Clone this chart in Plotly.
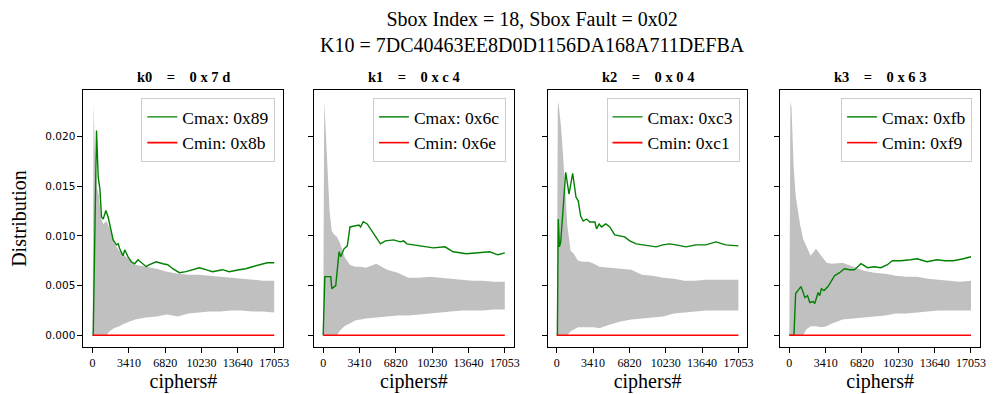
import plotly.graph_objects as go

# ---- data -------------------------------------------------------------
# shared sample grid (number of ciphertexts) for the grey confidence band
CIPHERS = [0, 100, 200, 400, 600, 800, 1000, 1300, 1600, 2000, 2500, 3000, 3500,
           4000, 5000, 6000, 7000, 8000, 9000, 10000, 11000, 12000, 13000, 14000,
           15000, 16000, 17053]

XTICKS = [0, 3410, 6820, 10230, 13640, 17053]
YTICKS = [0.0, 0.005, 0.010, 0.015, 0.020]
YTICK_TEXT = ["0.000", "0.005", "0.010", "0.015", "0.020"]

KEY_NAMES = ["k0", "k1", "k2", "k3"]
KEY_GUESSES = ["0x7d", "0xc4", "0x04", "0x63"]
CMAX_LABELS = ["0x89", "0x6c", "0xc3", "0xfb"]
CMIN_LABELS = ["0x8b", "0x6e", "0xc1", "0xf9"]

BAND_UPPER_K0 = [0, 0.0235, 0.0190, 0.0150, 0.0140, 0.0118, 0.0112, 0.0115, 0.0108,
                 0.0093, 0.0085, 0.0080, 0.0075, 0.0071, 0.0069, 0.0067, 0.0064,
                 0.0062, 0.0061, 0.0061, 0.0060, 0.0059, 0.0058, 0.0057, 0.0056,
                 0.0055, 0.0055]
BAND_LOWER_K0 = [0, 0, 0, 0, 0, 0, 0, 0, 0.0004, 0.0007, 0.0009, 0.0012, 0.0014,
                 0.0016, 0.0018, 0.0019, 0.0021, 0.0019, 0.0022, 0.0023, 0.0024,
                 0.0024, 0.0025, 0.0025, 0.0024, 0.0024, 0.0023]

BAND_UPPER_K1 = [0, 0.0235, 0.0215, 0.0172, 0.0125, 0.0105, 0.0102, 0.0099, 0.0092,
                 0.0079, 0.0071, 0.0069, 0.0069, 0.0068, 0.0072, 0.0066, 0.0063,
                 0.0058, 0.0058, 0.0059, 0.0058, 0.0057, 0.0056, 0.0055, 0.0055,
                 0.0054, 0.0054]
BAND_LOWER_K1 = [0, 0, 0, 0, 0, 0, 0, 0, 0.0005, 0.0009, 0.0012, 0.0015, 0.0016,
                 0.0017, 0.0018, 0.0019, 0.0020, 0.0020, 0.0021, 0.0022, 0.0023,
                 0.0024, 0.0025, 0.0025, 0.0025, 0.0026, 0.0026]

BAND_UPPER_K2 = [0, 0.0235, 0.0230, 0.0210, 0.0180, 0.0150, 0.0110, 0.0085, 0.0082,
                 0.0075, 0.0074, 0.0074, 0.0072, 0.0069, 0.0068, 0.0067, 0.0066,
                 0.0061, 0.0060, 0.0058, 0.0057, 0.0055, 0.0055, 0.0056, 0.0056,
                 0.0056, 0.0056]
BAND_LOWER_K2 = [0, 0, 0, 0, 0, 0, 0, 0.0004, 0.0006, 0.0008, 0.0008, 0.0008, 0.0008,
                 0.0007, 0.0011, 0.0014, 0.0016, 0.0017, 0.0018, 0.0019, 0.0022,
                 0.0023, 0.0024, 0.0025, 0.0025, 0.0025, 0.0025]

BAND_UPPER_K3 = [0, 0.0235, 0.0230, 0.0170, 0.0140, 0.0124, 0.0112, 0.0097, 0.0090,
                 0.0080, 0.0087, 0.0080, 0.0073, 0.0072, 0.0073, 0.0069, 0.0065,
                 0.0063, 0.0062, 0.0060, 0.0059, 0.0059, 0.0057, 0.0056, 0.0055,
                 0.0054, 0.0055]
BAND_LOWER_K3 = [0, 0, 0, 0, 0, 0, 0, 0, 0.0006, 0.0009, 0.0009, 0.0008, 0.0009,
                 0.0012, 0.0016, 0.0017, 0.0018, 0.0019, 0.0020, 0.0022, 0.0022,
                 0.0023, 0.0024, 0.0025, 0.0025, 0.0025, 0.0025]

# distribution of the most likely candidate (Cmax) per key byte
CMAX_N_K0 = [0, 60, 370, 530, 690, 840, 1000, 1250, 1460, 1620, 1930, 2240, 2400,
             2550, 2860, 3020, 3330, 3640, 3950, 4260, 4730, 5040, 5350, 5970, 6600,
             7060, 7530, 8150, 8770, 9390, 10020, 10640, 11260, 12200, 12820, 13760,
             14380, 15000, 15620, 16400, 17053]
CMAX_K0 = [0, 0, 0.0206, 0.0159, 0.0147, 0.0119, 0.0117, 0.01255, 0.0119, 0.0110,
           0.0096, 0.0091, 0.0092, 0.0087, 0.0080, 0.0086, 0.0079, 0.0074, 0.0072,
           0.0076, 0.0072, 0.0069, 0.0071, 0.0074, 0.0072, 0.0071, 0.0067, 0.0063,
           0.0064, 0.0066, 0.0068, 0.0066, 0.0064, 0.0066, 0.0064, 0.0066, 0.0067,
           0.0069, 0.0071, 0.0073, 0.0073]

CMAX_N_K1 = [0, 155, 714, 808, 1180, 1490, 1646, 1957, 2267, 2516, 3354, 3510, 3758,
             4131, 4752, 5373, 5839, 6616, 7237, 7548, 7858, 9100, 10343, 11430,
             12206, 13449, 14691, 15623, 16400, 17053]
CMAX_K1 = [0, 0.0059, 0.0059, 0.0047, 0.0050, 0.0084, 0.0079, 0.0087, 0.0090,
           0.0109, 0.0111, 0.0109, 0.01143, 0.0112, 0.0102, 0.0092, 0.0095, 0.0096,
           0.0094, 0.0095, 0.0092, 0.0090, 0.0088, 0.0089, 0.0084, 0.0082, 0.0083,
           0.0084, 0.0081, 0.0083]

CMAX_N_K2 = [0, 60, 140, 250, 373, 560, 840, 1150, 1494, 1805, 2023, 2240, 2490, 2800,
             3112, 3580, 3734, 3983, 4200, 4606, 4979, 5446, 5913, 6380, 6846, 7470,
             8090, 8714, 9336, 9958, 10580, 11200, 12140, 13070, 14000, 14940, 15870,
             17053]
CMAX_K2 = [0, 0, 0.0117, 0.0089, 0.0094, 0.0119, 0.0164, 0.0142, 0.0163, 0.0139,
           0.0135, 0.0120, 0.0115, 0.0117, 0.0114, 0.0114, 0.0107, 0.0112, 0.0109,
           0.0112, 0.0109, 0.0101, 0.0100, 0.0099, 0.0095, 0.0092, 0.0091, 0.0090,
           0.0089, 0.0091, 0.0092, 0.0091, 0.0089, 0.0091, 0.0091, 0.0094, 0.0091,
           0.0090]

CMAX_N_K3 = [0, 434, 590, 837, 1085, 1302, 1457, 1705, 1922, 2232, 2387, 2697, 2852,
             3007, 3255, 3627, 3937, 4247, 4712, 5177, 5642, 6107, 6417, 6727, 7347,
             7967, 8587, 9207, 9672, 10447, 11377, 11997, 12927, 13857, 14632, 15407,
             16337, 17053]
CMAX_K3 = [0, 0, 0.0042, 0.0046, 0.0049, 0.0043, 0.0038, 0.0040, 0.0033, 0.0034,
           0.0032, 0.0043, 0.0040, 0.0047, 0.0045, 0.0049, 0.0055, 0.0060, 0.0063,
           0.0067, 0.0066, 0.0066, 0.0069, 0.0072, 0.0068, 0.0069, 0.0068, 0.0071,
           0.0075, 0.0075, 0.0076, 0.0077, 0.0074, 0.0076, 0.0075, 0.0075, 0.0077,
           0.0079]

# the least likely candidate (Cmin) stays at zero
CMIN_N = [0, 17053]
CMIN_VALUES = [0.0, 0.0]

BAND_UPPER = [BAND_UPPER_K0, BAND_UPPER_K1, BAND_UPPER_K2, BAND_UPPER_K3]
BAND_LOWER = [BAND_LOWER_K0, BAND_LOWER_K1, BAND_LOWER_K2, BAND_LOWER_K3]
CMAX_N = [CMAX_N_K0, CMAX_N_K1, CMAX_N_K2, CMAX_N_K3]
CMAX = [CMAX_K0, CMAX_K1, CMAX_K2, CMAX_K3]

# ---- layout geometry (pixels) ------------------------------------------
W, H = 995, 394
PANEL_LEFT = [84, 316, 551, 785]
PANEL_WIDTH = 201
PANEL_TOP, PANEL_BOTTOM = 90, 347
X_RANGE = [-852.65, 17905.65]
Y_RANGE = [-0.001175, 0.024675]

SERIF = "Liberation Serif"
SANS = "DejaVu Sans"
BAND_COLOR = "#c0c0c0"

fig = go.Figure()
layout = {}

for i in range(4):
    sfx = "" if i == 0 else str(i + 1)
    xa, ya = "x" + sfx, "y" + sfx
    leg = "legend" + sfx

    fig.add_trace(go.Scatter(x=CIPHERS, y=BAND_LOWER[i], mode="lines",
                             line=dict(width=0, color=BAND_COLOR),
                             showlegend=False, hoverinfo="skip", xaxis=xa, yaxis=ya))
    fig.add_trace(go.Scatter(x=CIPHERS, y=BAND_UPPER[i], mode="lines",
                             line=dict(width=0, color=BAND_COLOR), fill="tonexty",
                             fillcolor=BAND_COLOR, showlegend=False,
                             hoverinfo="skip", xaxis=xa, yaxis=ya))
    fig.add_trace(go.Scatter(x=CMAX_N[i], y=CMAX[i], mode="lines",
                             line=dict(width=1.4, color="green"),
                             name="Cmax: " + CMAX_LABELS[i], legend=leg,
                             xaxis=xa, yaxis=ya))
    fig.add_trace(go.Scatter(x=CMIN_N, y=CMIN_VALUES, mode="lines",
                             line=dict(width=1.6, color="red"),
                             name="Cmin: " + CMIN_LABELS[i], legend=leg,
                             xaxis=xa, yaxis=ya))

    x0 = PANEL_LEFT[i] / W
    x1 = (PANEL_LEFT[i] + PANEL_WIDTH) / W
    common = dict(showline=True, mirror=True, linecolor="black", linewidth=1,
                  ticks="outside", ticklen=5, tickwidth=1, tickcolor="black",
                  showgrid=False, zeroline=False)
    layout["xaxis" + sfx] = dict(
        common, domain=[x0, x1], range=X_RANGE, anchor=ya,
        tickmode="array", tickvals=XTICKS, ticktext=[str(v) for v in XTICKS],
        tickfont=dict(family=SERIF, size=12, color="black"),
        title=dict(text="ciphers#", font=dict(family=SERIF, size=20, color="black"),
                   standoff=4))
    yax = dict(common, domain=[1 - PANEL_BOTTOM / H, 1 - PANEL_TOP / H],
               range=Y_RANGE, anchor=xa, tickmode="array", tickvals=YTICKS,
               ticktext=YTICK_TEXT, showticklabels=(i == 0),
               tickfont=dict(family=SANS, size=10.5, color="black"))
    if i == 0:
        yax["title"] = dict(text="Distribution",
                            font=dict(family=SERIF, size=20, color="black"),
                            standoff=13)
    layout["yaxis" + sfx] = yax

    layout[leg] = dict(x=(PANEL_LEFT[i] + PANEL_WIDTH - 8) / W, y=1 - 98 / H,
                       xanchor="right", yanchor="top", traceorder="normal",
                       bgcolor="rgba(255,255,255,0.8)", bordercolor="#cccccc",
                       borderwidth=1, font=dict(family=SERIF, size=17.5, color="black"),
                       itemwidth=30, tracegroupgap=0)

annotations = []
for i in range(4):
    title = KEY_NAMES[i] + "\u2003=\u2003" + " ".join(KEY_GUESSES[i])
    annotations.append(dict(text=title, xref="paper", yref="paper",
                            x=(PANEL_LEFT[i] + PANEL_WIDTH / 2) / W, y=1 - 77 / H,
                            xanchor="center", yanchor="middle", showarrow=False,
                            font=dict(family=SERIF, size=14.5, color="black",
                                      weight="bold")))

# figure title, two centred lines above the panels
annotations.append(dict(text="Sbox Index = 18, Sbox Fault = 0x02<br>"
                             "K10 = 7DC40463EE8D0D1156DA168A711DEFBA",
                        xref="paper", yref="paper", x=535.5 / W, y=1 - 6 / H,
                        xanchor="center", yanchor="top", showarrow=False,
                        font=dict(family=SERIF, size=20, color="black")))

fig.update_layout(
    width=W, height=H, margin=dict(l=0, r=0, t=0, b=0),
    paper_bgcolor="white", plot_bgcolor="white",
    font=dict(family=SERIF, color="black"),
    annotations=annotations,
    **layout,
)

fig.write_html("out.html")
